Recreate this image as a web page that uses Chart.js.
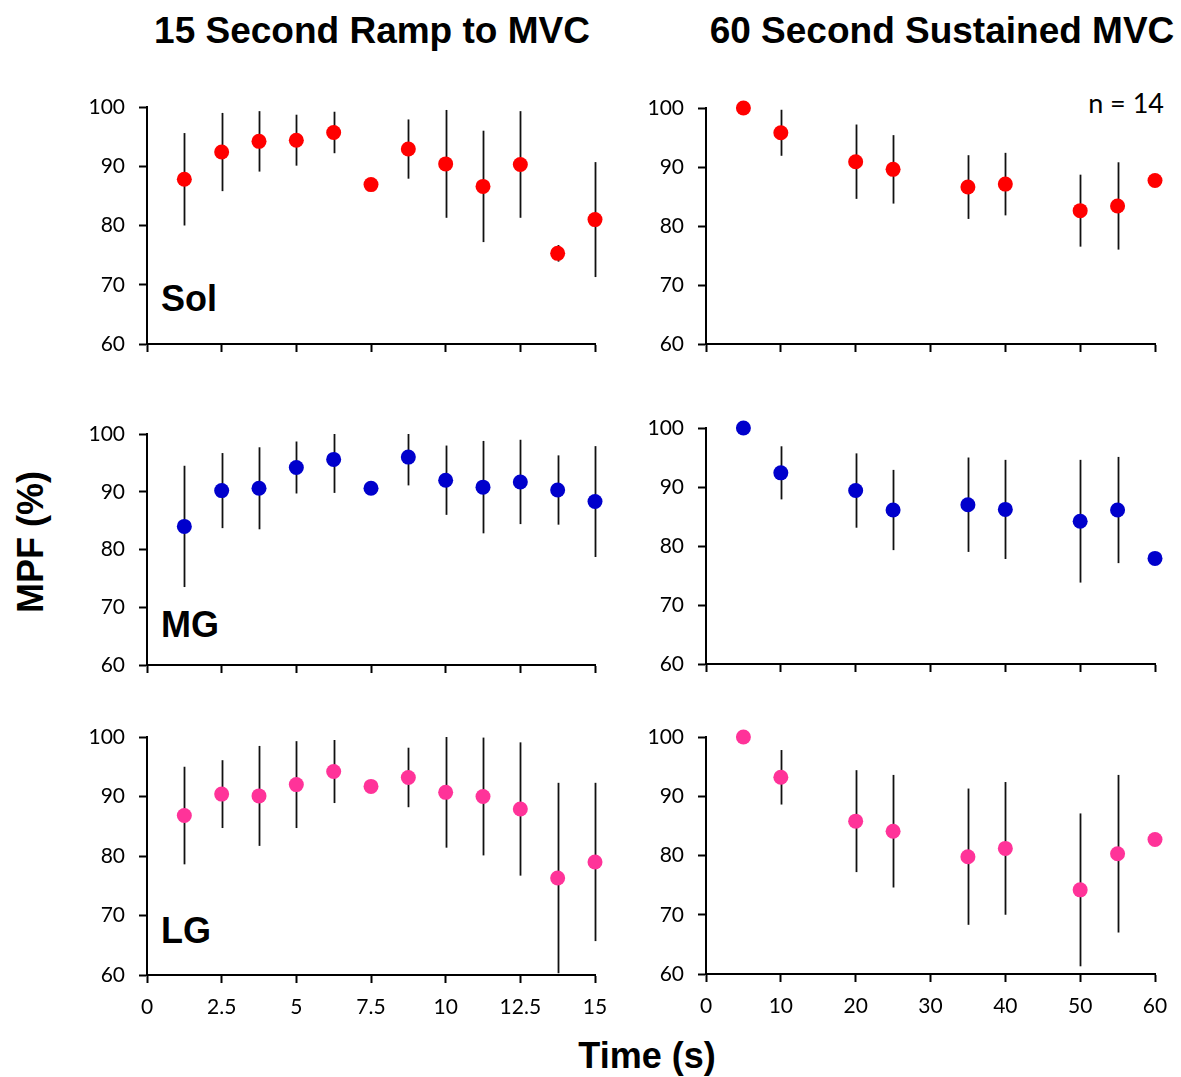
<!DOCTYPE html>
<html>
<head>
<meta charset="utf-8">
<script src="https://cdn.jsdelivr.net/npm/chart.js@4.4.1/dist/chart.umd.min.js"></script>
<style>
    body { margin: 0; background: #fff; }
    #wrap { position: relative; width: 1181px; height: 1077px; overflow: hidden; }
    #wrap canvas { position: absolute; }
    .txt { position: absolute; font-family: "Liberation Sans", Arial, sans-serif; font-weight: bold; color: #000; white-space: nowrap; }
    .title { font-size: 37px; top: 10px; transform: translateX(-50%); }
    .panel-label { font-size: 36px; left: 161px; }
    .n-label { position: absolute; font-family: Lato, sans-serif; font-size: 27px; color: #000; right: 17px; top: 86px; }
</style>
</head>
<body>
<div id="wrap">
    <div class="txt title" style="left:372px;">15 Second Ramp to MVC</div>
    <div class="txt title" style="left:942px;">60 Second Sustained MVC</div>
    <div class="txt" style="font-size:36px; left:31px; top:542px; transform: translate(-50%, -50%) rotate(-90deg);">MPF (%)</div>
    <div class="txt" style="font-size:36px; left:647px; top:1035px; transform: translateX(-50%);">Time (s)</div>
    <div class="n-label">n = 14</div>
    <div class="txt panel-label" style="top:278px;">Sol</div>
    <div class="txt panel-label" style="top:604px;">MG</div>
    <div class="txt panel-label" style="top:910px;">LG</div>
</div>
<script>
// time points (s)
const rampTimes = [1.25, 2.5, 3.75, 5, 6.25, 7.5, 8.75, 10, 11.25, 12.5, 13.75, 15];
const sustainedTimes = [5, 10, 20, 25, 35, 40, 50, 55, 60];

// tick labels
const rampTicks = [0, 2.5, 5, 7.5, 10, 12.5, 15];
const sustainedTicks = [0, 10, 20, 30, 40, 50, 60];
const mpfTicks = [60, 70, 80, 90, 100];

// Sol
const solRamp = [87.8, 92.4, 94.2, 94.4, 95.7, 86.9, 92.9, 90.4, 86.6, 90.3, 75.3, 81.0];
const solRampSD = [7.8, 6.6, 5.1, 4.3, 3.5, 0, 5.0, 9.1, 9.4, 9.0, 1.4, 9.7];
const solSustained = [100, 95.8, 90.9, 89.6, 86.6, 87.1, 82.6, 83.4, 87.7];
const solSustainedSD = [0, 3.9, 6.3, 5.8, 5.4, 5.3, 6.1, 7.4, 0];

// MG
const mgRamp = [84.0, 90.2, 90.6, 94.2, 95.6, 90.6, 96.0, 92.0, 90.8, 91.7, 90.3, 88.3];
const mgRampSD = [10.5, 6.5, 7.1, 4.5, 5.8, 0, 4.9, 6.0, 8.0, 7.3, 6.0, 9.6];
const mgSustained = [100, 92.4, 89.4, 86.1, 87.0, 86.2, 84.2, 86.1, 77.9];
const mgSustainedSD = [0, 4.5, 6.3, 6.8, 8.0, 8.4, 10.4, 9.0, 0];

// LG
const lgRamp = [86.8, 90.4, 90.1, 92.0, 94.2, 91.7, 93.2, 90.7, 90.0, 87.9, 76.3, 79.0];
const lgRampSD = [8.2, 5.7, 8.4, 7.3, 5.3, 0, 5.0, 9.3, 9.9, 11.2, 16.0, 13.3];
const lgSustained = [100, 93.2, 85.8, 84.1, 79.8, 81.2, 74.2, 80.3, 82.7];
const lgSustainedSD = [0, 4.6, 8.6, 9.5, 11.5, 11.2, 12.9, 13.3, 0];

const RED = '#ff0000';
const BLUE = '#0000cc';
const PINK = '#ff3399';

// vertical SD bars, drawn under the dots and clipped to the plot area
const errorBars = {
    id: 'errorBars',
    beforeDatasetsDraw(chart) {
        const { ctx, chartArea, scales } = chart;
        const ds = chart.data.datasets[0];
        ctx.save();
        ctx.beginPath();
        ctx.rect(chartArea.left - 10, chartArea.top, chartArea.width + 20, chartArea.height);
        ctx.clip();
        ctx.strokeStyle = '#111';
        ctx.lineWidth = 1.8;
        ds.data.forEach((p, i) => {
            const sd = ds.sd[i];
            if (!sd) return;
            const px = Math.round(scales.x.getPixelForValue(p.x)) + 0.5;
            ctx.beginPath();
            ctx.moveTo(px, scales.y.getPixelForValue(p.y + sd));
            ctx.lineTo(px, scales.y.getPixelForValue(p.y - sd));
            ctx.stroke();
        });
        ctx.restore();
    }
};

function makePanel(area, times, mean, sd, color, xTicks, xMax, showXLabels) {
    const canvas = document.createElement('canvas');
    const cw = area.w + 130;
    const ch = area.h + 70;
    canvas.width = cw;
    canvas.height = ch;
    canvas.style.width = cw + 'px';
    canvas.style.height = ch + 'px';
    canvas.style.left = (area.x - 100) + 'px';
    canvas.style.top = (area.y - 20) + 'px';
    document.getElementById('wrap').appendChild(canvas);

    const tickFont = { family: 'Lato, sans-serif', size: 21 };

    new Chart(canvas.getContext('2d'), {
        type: 'scatter',
        data: {
            datasets: [{
                data: times.map((t, i) => ({ x: t, y: mean[i] })),
                sd: sd,
                backgroundColor: color,
                borderColor: color,
                pointRadius: 7.5,
                pointHoverRadius: 7.5,
                borderWidth: 0,
                clip: false
            }]
        },
        options: {
            responsive: false,
            animation: false,
            events: [],
            layout: { padding: { left: 0, top: 20, right: 30, bottom: 0 } },
            plugins: { legend: { display: false }, tooltip: { enabled: false } },
            scales: {
                x: {
                    type: 'linear',
                    min: 0,
                    max: xMax,
                    afterFit: s => { s.height = 50; s.paddingLeft = 0; s.paddingRight = 0; },
                    afterBuildTicks: s => { s.ticks = xTicks.map(v => ({ value: v })); },
                    border: { display: true, color: '#000', width: 2 },
                    grid: { drawOnChartArea: false, drawTicks: true, tickLength: 8, color: '#000', tickColor: '#000', tickWidth: 2 },
                    ticks: {
                        font: tickFont,
                        color: showXLabels ? '#000' : 'rgba(0,0,0,0)',
                        padding: 12,
                        maxRotation: 0,
                        autoSkip: false,
                        callback: v => String(v)
                    }
                },
                y: {
                    type: 'linear',
                    min: 60,
                    max: 100,
                    afterFit: s => { s.width = 100; s.paddingTop = 0; s.paddingBottom = 0; },
                    afterBuildTicks: s => { s.ticks = mpfTicks.map(v => ({ value: v })); },
                    border: { display: true, color: '#000', width: 2 },
                    grid: { drawOnChartArea: false, drawTicks: true, tickLength: 8, color: '#000', tickColor: '#000', tickWidth: 2 },
                    ticks: {
                        font: tickFont,
                        color: '#000',
                        padding: 14,
                        autoSkip: false,
                        callback: v => String(v)
                    }
                }
            }
        },
        plugins: [errorBars]
    });
}

makePanel({ x: 147, y: 107, w: 448, h: 237 }, rampTimes, solRamp, solRampSD, RED, rampTicks, 15, false);
makePanel({ x: 706, y: 108, w: 449, h: 236 }, sustainedTimes, solSustained, solSustainedSD, RED, sustainedTicks, 60, false);
makePanel({ x: 147, y: 434, w: 448, h: 231 }, rampTimes, mgRamp, mgRampSD, BLUE, rampTicks, 15, false);
makePanel({ x: 706, y: 428, w: 449, h: 236 }, sustainedTimes, mgSustained, mgSustainedSD, BLUE, sustainedTicks, 60, false);
makePanel({ x: 147, y: 737, w: 448, h: 238 }, rampTimes, lgRamp, lgRampSD, PINK, rampTicks, 15, true);
makePanel({ x: 706, y: 737, w: 449, h: 237 }, sustainedTimes, lgSustained, lgSustainedSD, PINK, sustainedTicks, 60, true);
</script>
</body>
</html>
